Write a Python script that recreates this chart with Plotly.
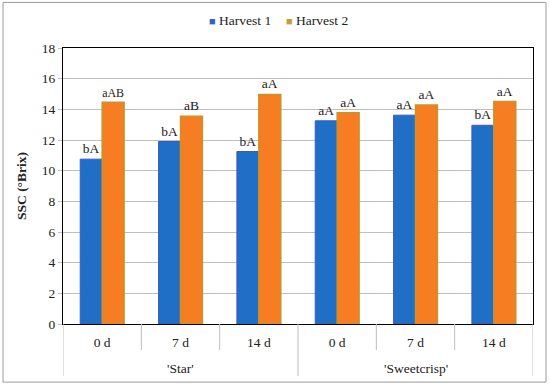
import plotly.graph_objects as go

cultivars = ["'Star'", "'Sweetcrisp'"]
days = ["0 d", "7 d", "14 d", "0 d", "7 d", "14 d"]
harvest1 = [10.75, 11.9, 11.25, 13.25, 13.62, 12.96]
harvest2 = [14.46, 13.55, 14.97, 13.77, 14.29, 14.51]
labels1 = ["bA", "bA", "bA", "aA", "aA", "bA"]
labels2 = ["aAB", "aB", "aA", "aA", "aA", "aA"]
series_names = ["Harvest 1", "Harvest 2"]
y_ticks = [0, 2, 4, 6, 8, 10, 12, 14, 16, 18]

FONT = "Liberation Serif"
FS = 13.5
pos = list(range(len(days)))
n_per = len(days) // len(cultivars)

fig = go.Figure()
fig.add_trace(go.Bar(
    x=pos, y=harvest1, name=series_names[0], showlegend=False,
    marker=dict(color="#1F6FC6", line=dict(color="#3E58C0", width=1)),
    text=labels1, textposition="outside", cliponaxis=False,
    textfont=dict(family=FONT, size=FS, color="#222"),
))
fig.add_trace(go.Bar(
    x=pos, y=harvest2, name=series_names[1], showlegend=False,
    marker=dict(color="#F67D22", line=dict(color="#C9922C", width=1.5)),
    text=labels2, textposition="outside", cliponaxis=False,
    textfont=dict(family=FONT, size=FS, color="#222"),
))

PH = 275.5  # plot height px
PW = 470.0  # plot width px
L, T = 63, 48.5
shapes = [dict(type="rect", xref="paper", yref="paper", x0=-60 / PW, x1=1 + 13 / PW,
               y0=-58 / PH, y1=1 + 45.5 / PH, line=dict(color="#9A9A9A", width=1), layer="below")]
for i in range(len(days) + 1):
    xb = i - 0.5
    outer = (i % n_per == 0)
    shapes.append(dict(type="line", xref="x", yref="paper", x0=xb, x1=xb,
                       y0=0, y1=-(52 if outer else 26) / PH,
                       line=dict(color="#BFBFBF", width=1)))
annotations = []
for g, name in enumerate(cultivars):
    annotations.append(dict(x=g * n_per + (n_per - 1) / 2, y=-44 / PH, xref="x", yref="paper",
                            text=name, showarrow=False, yanchor="middle",
                            font=dict(family=FONT, size=FS, color="#222")))
# legend (swatch + label)
swatch_colors = ["#3A5CC8", "#BFA032"]
legend_x = [207, 284]
for name, col, lx in zip(series_names, swatch_colors, legend_x):
    annotations.append(dict(
        x=(lx - L) / PW, y=1 + (T - 21) / PH, xref="paper", yref="paper",
        text=f"<span style='color:{col};font-size:11px'>■</span> {name}",
        showarrow=False, xanchor="left", yanchor="middle",
        font=dict(family=FONT, size=FS, color="#222")))

fig.update_layout(
    width=550, height=386,
    margin=dict(l=63, r=17, t=48, b=62),
    paper_bgcolor="white", plot_bgcolor="white",
    font=dict(family=FONT, size=FS, color="#222"),
    barmode="group", bargap=0.44, bargroupgap=0,
    showlegend=False,
    yaxis=dict(range=[0, 18], tickvals=y_ticks, showgrid=True, gridcolor="#BFBFBF",
               gridwidth=1, showline=True, linecolor="black", linewidth=1, mirror=True,
               ticks="outside", ticklen=4, tickcolor="#BFBFBF", zeroline=False, automargin=False,
               title=dict(text="<b>SSC (°Brix)</b>", font=dict(family=FONT, size=FS), standoff=12)),
    xaxis=dict(range=[-0.5, len(days) - 0.5], tickvals=pos, ticktext=days, showgrid=False,
               showline=True, linecolor="black", linewidth=1, mirror=True, zeroline=False,
               ticks="outside", ticklen=6, tickcolor="rgba(0,0,0,0)", automargin=False),
    shapes=shapes,
    annotations=annotations,
)

fig.write_html("out.html", config={"displayModeBar": False},
               post_script="document.body.style.margin='0';")
